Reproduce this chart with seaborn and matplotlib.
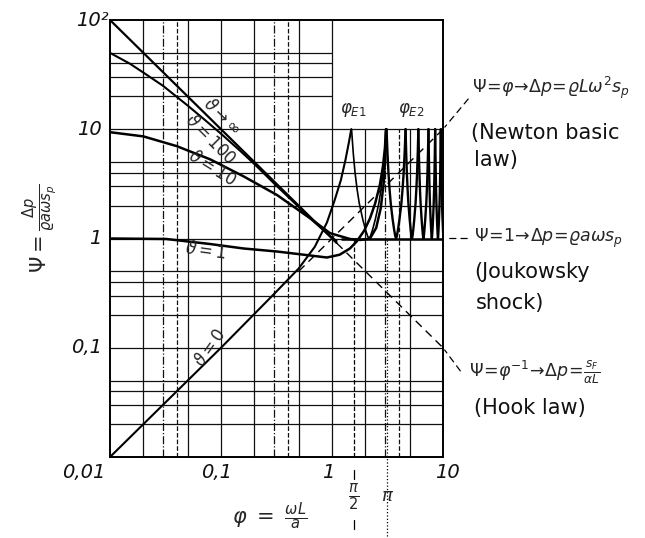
import numpy as np
import matplotlib
matplotlib.use("Agg")
import matplotlib.pyplot as plt
import seaborn as sns

# axis ticks
xtick_vals = [0.01, 0.1, 1, 10]
xtick_text = ["0,01", "0,1", "1", "10"]
ytick_vals = [0.1, 1, 10, 100]
ytick_text = ["0,1", "1", "10", "10²"]
grid_sub = [2, 3, 4, 5]

# curves
phi_inf = [0.01, 1.1]
psi_inf = [100, 0.91]
phi_hook = [1.1, 10]
psi_hook = [0.91, 0.1]
phi_newton = [0.5, 10]
psi_newton = [0.5, 10]

phi_100 = [0.01, 0.015, 0.02, 0.03, 0.05, 0.07, 0.1, 0.15, 0.2, 0.3, 0.5, 0.7, 1.0, 1.1]
psi_100 = [50, 40, 33, 25, 16.5, 12.4, 9.1, 6.3, 4.8, 3.2, 1.95, 1.4, 1.02, 0.95]

phi_10 = [0.01, 0.02, 0.04, 0.08, 0.16, 0.32, 0.63, 0.96, 1.45, 1.8, 2.2, 2.5, 2.75, 2.92, 3.02, 3.08]
psi_10 = [9.4, 8.6, 7.0, 5.3, 3.7, 2.5, 1.54, 1.12, 0.99, 0.97, 1.0, 1.25, 1.9, 3.2, 5.5, 10]

phi_1 = [0.01, 0.032, 0.08, 0.16, 0.32, 0.63, 0.9, 1.17, 1.45, 1.67, 1.95, 2.2, 2.45, 2.7, 2.88, 3.0, 3.06]
psi_1 = [1.0, 0.99, 0.89, 0.81, 0.76, 0.70, 0.67, 0.71, 0.81, 0.94, 1.18, 1.53, 2.1, 3.1, 4.6, 6.8, 10]

phi_0 = [0.01, 0.1, 0.3, 0.5, 0.7, 0.9, 1.05, 1.2, 1.32, 1.42, 1.49]
psi_0 = [0.01, 0.1, 0.31, 0.53, 0.84, 1.4, 2.2, 3.4, 5.2, 7.6, 10]

# resonance peaks and the shape of one arch between two peaks
peaks = [1.5, 3.1, 4.6, 6.0, 7.4, 8.5, 9.55, 10.7]
lobe_frac = [0.0, 0.05, 0.1, 0.16, 0.22, 0.32, 0.4, 0.46, 0.5, 0.54, 0.6, 0.68, 0.78, 0.84, 0.9, 0.95, 1.0]
lobe_psi = [10, 6.0, 4.0, 2.8, 2.1, 1.5, 1.2, 1.05, 1.0, 1.05, 1.2, 1.5, 2.1, 2.8, 4.0, 6.0, 10]

sns.set_theme(style="white")
plt.rcParams["font.family"] = ["DejaVu Sans"]
plt.rcParams["mathtext.fontset"] = "dejavusans"

W, H = 645, 538
fig = plt.figure(figsize=(W / 100, H / 100), dpi=100)
ax = fig.add_axes([110 / W, 1 - 457 / H, 333 / W, 437 / H])
ax.set_xscale("log")
ax.set_yscale("log")
ax.set_xlim(0.01, 10)
ax.set_ylim(0.01, 100)
ax.set_xticks([])
ax.set_yticks([])
ax.minorticks_off()
for s in ax.spines.values():
    s.set_color("black")
    s.set_linewidth(1.4)

gk = dict(color="#111111", lw=0.9, zorder=1)
# horizontal grid
for dec in [0.01, 0.1, 1, 10]:
    for m in [1] + grid_sub:
        y = dec * m
        if y <= 0.01:
            continue
        if y <= 10:
            ax.axhline(y, **gk)
        else:
            ax.hlines(y, 0.01, 1, **gk)
# vertical grid
for dec in [0.01, 0.1, 1]:
    for m in [1] + grid_sub:
        x = dec * m
        if x <= 0.01:
            continue
        ls = "--" if m == 4 else ("-." if m == 3 else "-")
        top = 1.0 if x <= 1 else 0.75
        ax.axvline(x, ymax=top, color="#111111", lw=0.9, ls=ls, zorder=1)
ax.hlines(1, 1.2, 10, color="black", lw=1.8, zorder=2)

# pi/2 and pi marks
ax.axvline(np.pi / 2, ymin=0, ymax=0.5, color="black", lw=0.9, ls="--", zorder=1)
ax.axvline(np.pi, ymin=-0.18, ymax=0.5, color="black", lw=0.9, ls=":", clip_on=False, zorder=1)
ax.axvline(np.pi / 2, ymin=-0.05, ymax=-0.03, color="black", lw=0.9, clip_on=False)
ax.axvline(np.pi / 2, ymin=-0.165, ymax=-0.145, color="black", lw=0.9, clip_on=False)

kw = dict(ax=ax, color="black", estimator=None, sort=False, legend=False)
sns.lineplot(x=phi_inf, y=psi_inf, lw=1.6, **kw)
sns.lineplot(x=phi_hook, y=psi_hook, lw=1.0, linestyle=(0, (6, 4)), **kw)
sns.lineplot(x=phi_newton, y=psi_newton, lw=1.0, linestyle=(0, (6, 4)), **kw)
sns.lineplot(x=phi_100, y=psi_100, lw=1.5, **kw)
sns.lineplot(x=phi_10, y=psi_10, lw=1.8, **kw)
sns.lineplot(x=phi_1, y=psi_1, lw=1.8, **kw)
sns.lineplot(x=phi_0, y=psi_0, lw=1.5, **kw)

frac = np.array(lobe_frac)
for i in range(len(peaks) - 1):
    pl, pr = peaks[i], peaks[i + 1]
    xs = pl * (pr / pl) ** frac
    sns.lineplot(x=xs, y=lobe_psi, lw=1.7 if i else 1.2, **kw)

# tick labels
tk = dict(fontsize=14, fontstyle="italic", color="#111111")
for v, t in zip(xtick_vals, xtick_text):
    dx = {0.01: -3, 0.1: -3, 1: -3, 10: 3}[v]
    ha = "right" if v == 0.01 else "center"
    ax.annotate(t, (v, 0), xycoords=("data", "axes fraction"), xytext=(dx, -11),
                textcoords="offset points", ha=ha, va="center", **tk)
for v, t in zip(ytick_vals, ytick_text):
    dx = -1 if v == 100 else -6
    ax.annotate(t, (0.01, v), xytext=(dx, 0), textcoords="offset points",
                ha="right", va="center", **tk)


def ft(px, py, s, **k):
    fig.text(px / W, 1 - py / H, s, **k)


ft(40, 228, r"$\Psi = \frac{\Delta p}{\varrho a \omega s_p}$", rotation=90, ha="center", va="center", fontsize=15)
ft(270, 516, r"$\varphi\ =\ \frac{\omega L}{a}$", ha="center", va="center", fontsize=15)
ft(354, 497, r"$\frac{\pi}{2}$", ha="center", va="center", fontsize=15)
ft(388, 496, r"$\pi$", ha="center", va="center", fontsize=13)

lk = dict(ha="center", va="center", fontsize=12, fontstyle="italic")
ft(222, 117, r"$\vartheta\rightarrow\infty$", rotation=-44, **lk)
ft(210, 139, r"$\vartheta=100$", rotation=-45, **lk)
ft(212, 168, r"$\vartheta=10$", rotation=-32, **lk)
ft(206, 251, r"$\vartheta=1$", rotation=-8, **lk)
ft(210, 348, r"$\vartheta=0$", rotation=55, **lk)
ft(353, 110, r"$\varphi_{E1}$", **lk)
ft(411, 110, r"$\varphi_{E2}$", **lk)

# leaders to the side notes
ld = dict(arrowstyle="-", color="black", lw=0.9, linestyle=(0, (5, 4)))
ax.annotate("", xy=(10, 10), xytext=(1.081, 0.824), textcoords="axes fraction", arrowprops=ld)
ax.annotate("", xy=(10, 1), xytext=(1.081, 0.5), textcoords="axes fraction", arrowprops=ld)
ax.annotate("", xy=(10, 0.1), xytext=(1.057, 0.192), textcoords="axes fraction", arrowprops=ld)

nk = dict(ha="left", va="center", fontsize=15, color="#111111")
fk = dict(ha="left", va="center", fontsize=12.5)
ft(472, 88, r"$\Psi\!=\!\varphi\!\rightarrow\!\Delta p\!=\!\varrho L\omega^2 s_p$", **fk)
ft(471, 133, "(Newton basic", **nk)
ft(474, 160, "law)", **nk)
ft(474, 238, r"$\Psi\!=\!1\!\rightarrow\!\Delta p\!=\!\varrho a\omega s_p$", **fk)
ft(474, 272, "(Joukowsky", **nk)
ft(476, 303, "shock)", **nk)
ft(469, 372, r"$\Psi\!=\!\varphi^{-1}\!\rightarrow\!\Delta p\!=\!\frac{s_F}{\alpha L}$", **fk)
ft(474, 408, "(Hook law)", **nk)

fig.savefig("out.png", dpi=100, facecolor="white")
